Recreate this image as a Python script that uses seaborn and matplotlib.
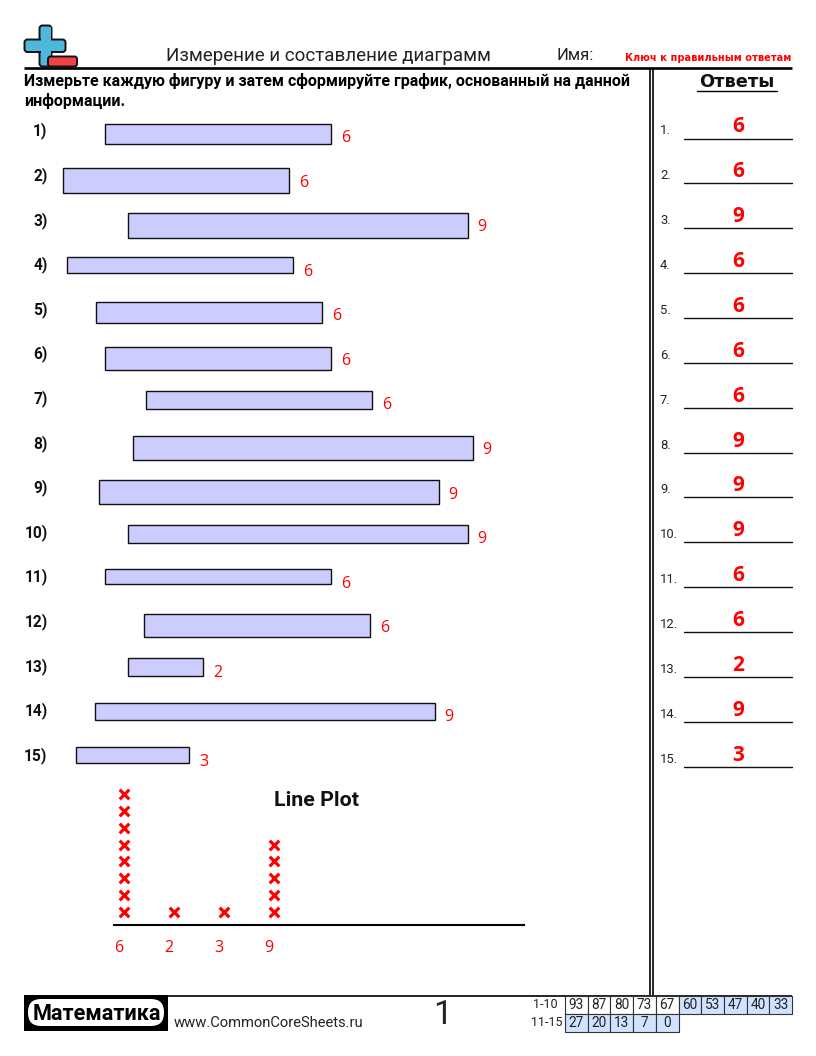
import matplotlib
matplotlib.use("Agg")
import matplotlib.pyplot as plt
from matplotlib.patches import FancyBboxPatch, Rectangle
from matplotlib.transforms import ScaledTranslation
import pandas as pd
import seaborn as sns

# ---- data ----
answers = [6, 6, 9, 6, 6, 6, 6, 9, 9, 9, 6, 6, 2, 9, 3]
bar_left = [105, 63, 128, 67, 96, 105, 146, 133, 99, 128, 105, 144, 128, 95, 76]
bar_top = [123.5, 168, 212.5, 257, 302, 346.5, 391, 435.5, 480, 524.5, 569, 613.5, 658, 702.5, 747]
bar_bottom = [143.5, 193, 237.5, 273, 323, 369.5, 409, 459.5, 504, 543, 584, 637, 676, 720, 763]
plot_categories = ["6", "2", "3", "9"]
plot_counts = [8, 1, 1, 5]
row1_labels = ["93", "87", "80", "73", "67", "60", "53", "47", "40", "33"]
row2_labels = ["27", "20", "13", "7", "0"]

PX_PER_UNIT = 37.8
W, H = 816, 1056
RED = "#ff0000"

sns.set_theme(style="white")
plt.rcParams["font.family"] = ["Roboto", "DejaVu Sans"]

fig = plt.figure(figsize=(W / 100, H / 100), dpi=100, facecolor="white")
ax = fig.add_axes([0, 0, 1, 1])

# ---- measured bars ----
for i, val in enumerate(answers):
    h = bar_bottom[i] - bar_top[i]
    sns.barplot(x=[val * PX_PER_UNIT], y=[(bar_top[i] + bar_bottom[i]) / 2], orient="y",
                native_scale=True, width=h, left=bar_left[i] - 0.4, color="#ccccff",
                saturation=1, edgecolor="#111111", linewidth=1.0, errorbar=None, ax=ax)
ax.set_xlim(0, W)
ax.set_ylim(H, 0)
ax.axis("off")


def T(x, y, s, size, **kw):
    kw.setdefault("va", "center")
    kw.setdefault("ha", "left")
    kw.setdefault("color", "black")
    return ax.text(x, y, s, fontsize=size, **kw)


# ---- header ----
ax.add_patch(FancyBboxPatch((39.5, 25.5), 12, 41, boxstyle="round,pad=0,rounding_size=3",
                            fc="#4db8dc", ec="#111111", lw=1.4, zorder=3))
ax.add_patch(FancyBboxPatch((24.5, 39.5), 41, 12.5, boxstyle="round,pad=0,rounding_size=3",
                            fc="#4db8dc", ec="#111111", lw=1.4, zorder=3))
ax.add_patch(Rectangle((40.5, 27), 10, 38, fc="#4db8dc", ec="none", zorder=4))
ax.add_patch(FancyBboxPatch((48, 56.5), 29, 10, boxstyle="round,pad=0,rounding_size=2.5",
                            fc="#ee4444", ec="#111111", lw=1.4, zorder=5))
T(166, 56, "Измерение и составление диаграмм", 13.5, color="#222222")
T(557, 56, "Имя:", 12, color="#222222")
T(625, 58, "Ключ к правильным ответам", 7.1, color=RED, fontweight="bold", family="DejaVu Sans")
ax.plot([24, 792], [67.5, 67.5], color="black", lw=1.9, solid_capstyle="butt", zorder=6)

T(24, 81, "Измерьте каждую фигуру и затем сформируйте график, основанный на данной", 11.56, fontweight="bold")
T(24, 101, "информации.", 11.56, fontweight="bold")

# vertical double rule
for vx in (650.3, 653.3):
    ax.plot([vx, vx], [68, 995], color="black", lw=1.2, solid_capstyle="butt")

T(737, 82, "Ответы", 12.8, ha="center", fontweight="bold", family="DejaVu Sans", color="#111111")
ax.plot([697, 777], [90.5, 90.5], color="black", lw=1.0)

# ---- question labels, marks and answer column ----
for i, val in enumerate(answers):
    rowy = 131 + i * 44.6
    T(47.5, rowy, f"{i + 1})", 11.2, ha="right", fontweight="bold", color="#111111")
    right = bar_left[i] + val * PX_PER_UNIT
    T(right + 9.5, 138 + i * 44.57, str(val), 11.5, color=RED, family="Open Sans")
    liney = 138.5 + i * 44.86
    T(660, liney - 7.5, f"{i + 1}.", 9.4, color="#222222")
    ax.plot([684, 792], [liney, liney], color="#111111", lw=1.0)
    T(738, liney - 11.5, str(val), 15, ha="center", color=RED, fontweight="bold", family="Open Sans")

# ---- line plot ----
lp = fig.add_axes([114 / W, 1 - 925 / H, 410 / W, 139 / H], facecolor="none")
px, py = [], []
for c, n in enumerate(plot_counts):
    for lvl in range(1, n + 1):
        px.append(c)
        py.append(lvl)
sns.scatterplot(data=pd.DataFrame({"cat": px, "lvl": py}), x="cat", y="lvl", marker="x",
                color=RED, s=48, linewidth=2.3, ax=lp, legend=False, clip_on=False)
lp.set_xlim(-0.2, 8)
lp.set_ylim(0.23, 8.47)
lp.set_xticks(range(len(plot_categories)), plot_categories, color=RED, fontsize=11.5, family="Open Sans")
lp.set_yticks([])
lp.set_xlabel("")
lp.set_ylabel("")
lp.tick_params(axis="x", length=0, pad=11)
for lab in lp.get_xticklabels():
    lab.set_transform(lab.get_transform() + ScaledTranslation(-5.5 / 100, 0, fig.dpi_scale_trans))
sns.despine(ax=lp, left=True)
lp.spines["bottom"].set_color("black")
lp.spines["bottom"].set_linewidth(1.5)
T(316, 800, "Line Plot", 15.4, ha="center", fontweight="bold", color="#111111")

# ---- footer ----
ax.plot([24, 792], [995.5, 995.5], color="black", lw=1.2, solid_capstyle="butt", zorder=6)
ax.add_patch(Rectangle((24, 995), 144, 36, fc="black", ec="none", zorder=3))
ax.add_patch(FancyBboxPatch((28, 999), 136, 27, boxstyle="round,pad=0,rounding_size=13",
                            fc="white", ec="none", zorder=4))
T(97, 1014, "Математика", 15.6, ha="center", fontweight="bold", zorder=5)
T(174, 1023, "www.CommonCoreSheets.ru", 10.65, color="#222222")
T(443, 1015, "1", 24, ha="center", color="#222222")

T(558, 1005, "1-10", 9, ha="right", color="#222222")
T(562, 1023, "11-15", 9, ha="right", color="#222222")
cw = (792 - 565) / 10
for r, labels in enumerate((row1_labels, row2_labels)):
    for c, s in enumerate(labels):
        shade = r == 1 or c >= 5
        ax.add_patch(Rectangle((565 + c * cw, 995.5 + r * 18), cw, 18,
                               fc="#cfe2ff" if shade else "white", ec="#333333", lw=0.8, zorder=7))
        T(565 + (c + 0.5) * cw, 1005 + r * 18, s, 9.8, ha="center", color="#222222", zorder=8)

fig.savefig("out.png", dpi=100)
